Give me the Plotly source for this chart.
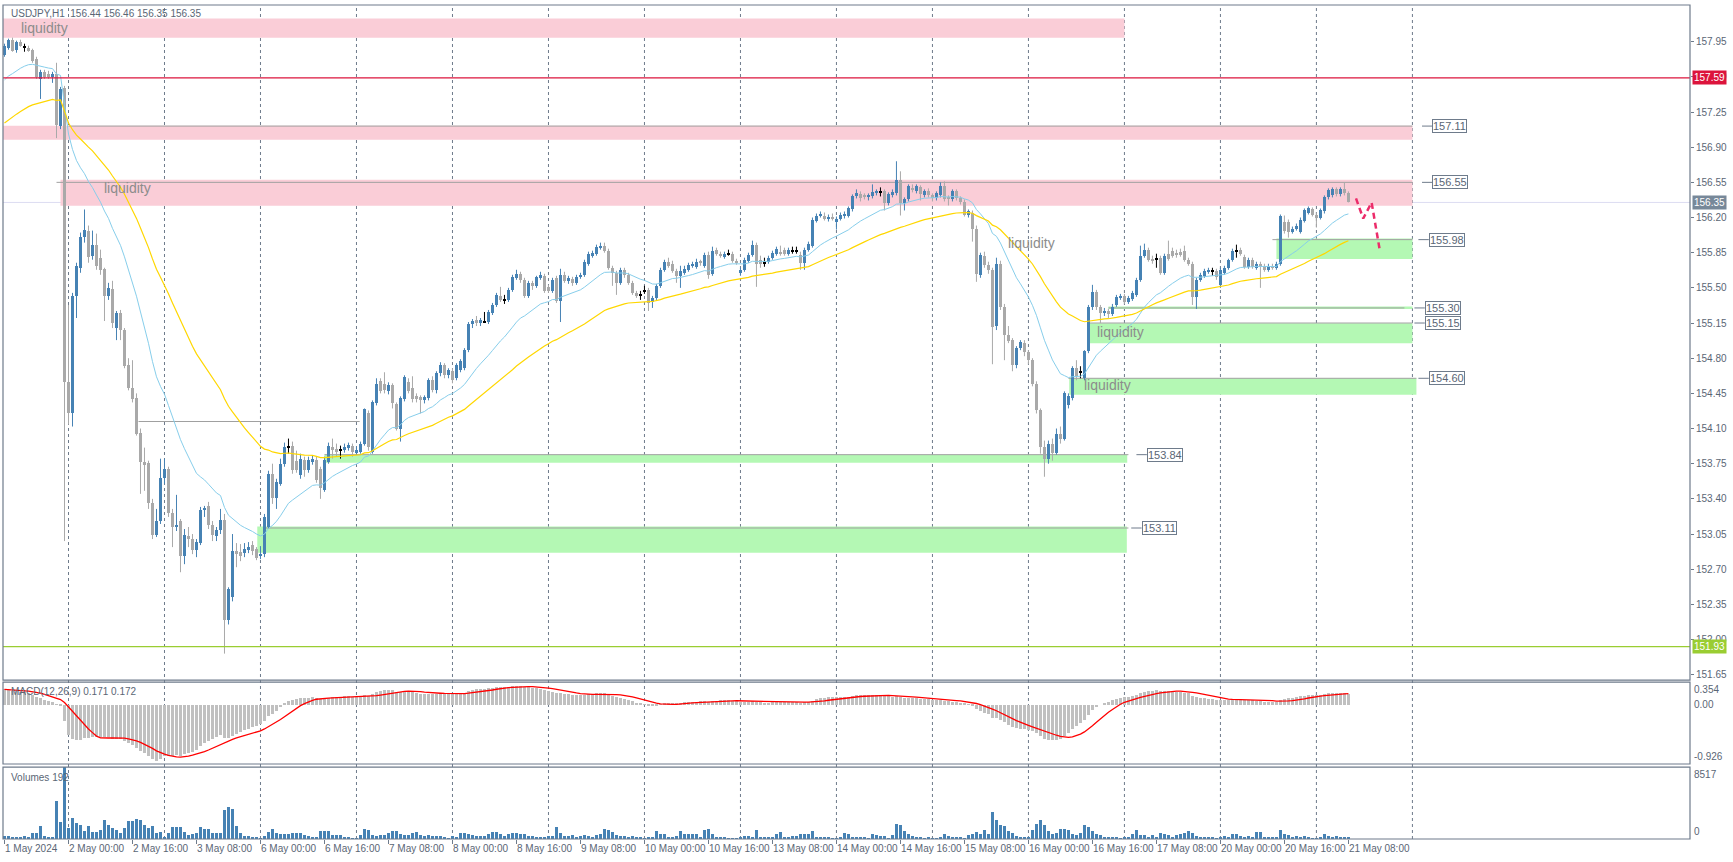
import plotly.graph_objects as go

# ---------------- data ----------------
OPEN = [157.82,157.89,157.97,157.87,157.95,157.90,157.89,157.87,157.78,157.58,157.65,157.63,157.60,157.63,157.11,157.49,
154.56,154.25,155.42,155.70,156.01,156.07,155.82,155.93,155.80,155.69,155.42,155.49,155.10,155.25,155.08,154.73,154.50,154.40,154.06,153.77,
153.76,153.36,153.04,153.18,153.61,153.70,153.26,153.12,153.18,152.83,153.03,153.00,152.89,152.96,153.29,153.33,153.14,153.03,153.09,153.19,
152.19,152.42,152.88,152.87,152.86,152.89,152.94,152.90,152.83,152.85,153.12,153.65,153.41,153.55,153.75,153.92,153.93,153.78,153.64,153.79,
153.69,153.77,153.79,153.70,153.49,153.77,153.92,153.90,153.89,153.89,153.91,153.93,153.86,153.87,153.95,154.25,153.87,154.35,154.57,154.54,
154.47,154.53,154.34,154.10,154.39,154.56,154.50,154.42,154.41,154.38,154.40,154.58,154.48,154.65,154.73,154.63,154.67,154.60,154.68,154.70,
154.88,155.14,155.18,155.15,155.16,155.16,155.25,155.33,155.42,155.38,155.38,155.48,155.60,155.64,155.58,155.42,155.55,155.52,155.60,155.62,
155.51,155.47,155.60,155.37,155.63,155.57,155.59,155.55,155.61,155.63,155.74,155.82,155.84,155.90,155.92,155.87,155.70,155.65,155.55,155.68,
155.63,155.55,155.45,155.43,155.47,155.48,155.36,155.40,155.52,155.68,155.76,155.74,155.67,155.62,155.65,155.68,155.72,155.71,155.76,155.72,
155.83,155.64,155.88,155.84,155.81,155.84,155.84,155.77,155.65,155.68,155.77,155.83,155.93,155.78,155.75,155.76,155.80,155.84,155.85,155.88,
155.84,155.87,155.87,155.83,155.75,155.88,155.92,156.17,156.22,156.22,156.19,156.21,156.16,156.19,156.22,156.22,156.28,156.41,156.43,156.42,
156.40,156.41,156.44,156.45,156.46,156.34,156.42,156.44,156.57,156.34,156.38,156.49,156.46,156.50,156.42,156.46,156.42,156.39,156.42,156.51,
156.40,156.38,156.46,156.39,156.35,156.23,156.25,156.09,155.63,155.82,155.73,155.68,155.12,155.74,155.31,155.03,154.98,154.73,154.90,154.95,
154.86,154.78,154.54,154.28,153.92,153.80,153.95,153.86,154.05,154.00,154.33,154.40,154.70,154.66,154.60,154.87,155.31,155.46,155.31,155.25,
155.27,155.24,155.33,155.40,155.42,155.36,155.39,155.43,155.58,155.82,155.88,155.79,155.79,155.80,155.65,155.84,155.87,155.85,155.86,155.87,
155.78,155.74,155.41,155.58,155.62,155.66,155.67,155.67,155.53,155.65,155.70,155.78,155.87,155.88,155.81,155.71,155.78,155.70,155.74,155.72,
155.68,155.72,155.70,155.74,156.16,156.16,156.06,156.09,156.06,156.17,156.25,156.28,156.23,156.20,156.26,156.40,156.42,156.48,156.43,156.48,
156.44]
HIGH = [157.93,157.98,157.99,157.96,157.97,157.93,157.91,157.88,157.80,157.67,157.67,157.66,157.65,157.74,157.50,157.51,
155.33,155.45,155.75,156.05,156.28,156.12,156.07,156.04,155.88,155.70,155.55,155.57,155.27,155.28,155.10,154.80,154.78,154.45,154.10,153.91,
153.78,153.40,153.30,153.80,153.80,153.72,153.30,153.44,153.20,153.10,153.12,153.05,153.00,153.32,153.33,153.37,153.18,153.12,153.30,153.25,
152.52,153.05,152.96,152.95,152.96,152.97,152.98,152.92,152.93,153.25,153.68,153.75,153.60,153.80,153.96,154.00,153.97,153.88,153.85,153.82,
153.82,153.83,153.82,153.72,153.82,153.96,154.00,153.95,153.93,153.95,153.96,153.95,153.92,153.97,154.30,154.28,154.38,154.60,154.60,154.66,
154.56,154.55,154.36,154.42,154.63,154.60,154.62,154.45,154.43,154.43,154.60,154.62,154.67,154.76,154.75,154.70,154.70,154.75,154.79,154.90,
155.16,155.19,155.22,155.20,155.26,155.28,155.35,155.45,155.51,155.43,155.50,155.63,155.68,155.66,155.60,155.57,155.57,155.62,155.66,155.64,
155.53,155.60,155.62,155.69,155.66,155.62,155.61,155.63,155.65,155.78,155.86,155.87,155.93,155.95,155.95,155.89,155.72,155.67,155.70,155.70,
155.65,155.57,155.47,155.47,155.52,155.50,155.42,155.54,155.70,155.78,155.80,155.77,155.69,155.72,155.72,155.75,155.76,155.79,155.78,155.85,
155.86,155.91,155.90,155.86,155.86,155.88,155.86,155.79,155.70,155.80,155.85,155.97,155.95,155.82,155.80,155.82,155.87,155.91,155.92,155.90,
155.90,155.91,155.91,155.86,155.90,155.96,156.20,156.24,156.26,156.25,156.23,156.24,156.21,156.25,156.26,156.31,156.43,156.48,156.46,156.44,
156.44,156.53,156.48,156.50,156.48,156.45,156.48,156.76,156.66,156.40,156.53,156.53,156.53,156.52,156.48,156.49,156.44,156.46,156.55,156.56,
156.42,156.48,156.48,156.41,156.38,156.28,156.27,156.12,155.85,155.86,155.76,155.70,155.80,155.77,155.34,155.12,155.00,154.92,154.98,154.98,
154.88,154.80,154.57,154.30,153.98,153.98,154.00,154.10,154.12,154.47,154.45,154.72,154.78,154.72,154.88,155.33,155.53,155.48,155.33,155.30,
155.29,155.34,155.43,155.44,155.44,155.42,155.47,155.60,155.92,155.94,155.90,155.82,155.84,155.82,155.84,155.97,155.90,155.88,155.89,155.92,
155.80,155.76,155.60,155.65,155.69,155.70,155.70,155.69,155.70,155.72,155.79,155.89,155.93,155.90,155.83,155.80,155.80,155.76,155.76,155.74,
155.74,155.74,155.76,156.23,156.22,156.18,156.11,156.14,156.20,156.29,156.31,156.30,156.25,156.29,156.42,156.49,156.50,156.50,156.50,156.55,
156.46]
LOW = [157.80,157.87,157.85,157.84,157.90,157.85,157.85,157.74,157.58,157.38,157.58,157.58,157.54,156.99,157.08,152.98,
154.14,154.12,155.20,155.65,155.95,155.75,155.78,155.68,155.63,155.17,155.38,155.10,154.98,154.98,154.70,154.48,154.36,154.03,153.45,153.48,
153.30,153.00,153.02,153.15,153.55,153.22,152.92,153.08,152.67,152.75,152.92,152.85,152.82,152.94,153.22,153.10,152.98,152.98,153.05,151.86,
152.15,152.38,152.72,152.78,152.82,152.86,152.84,152.79,152.80,152.82,153.10,153.35,153.30,153.53,153.72,153.85,153.65,153.66,153.60,153.62,
153.66,153.74,153.56,153.40,153.47,153.75,153.80,153.82,153.80,153.86,153.88,153.82,153.84,153.85,153.93,153.88,153.85,154.33,154.45,154.45,
154.44,154.30,154.08,153.97,154.37,154.45,154.36,154.36,154.25,154.35,154.38,154.46,154.45,154.62,154.60,154.60,154.55,154.58,154.66,154.68,
154.86,155.10,155.12,155.12,155.15,155.14,155.23,155.31,155.36,155.34,155.36,155.46,155.58,155.55,155.40,155.40,155.48,155.50,155.58,155.45,
155.45,155.45,155.35,155.16,155.55,155.54,155.52,155.53,155.59,155.61,155.72,155.80,155.82,155.88,155.85,155.68,155.52,155.43,155.53,155.60,
155.53,155.43,155.40,155.38,155.44,155.27,155.30,155.38,155.50,155.66,155.70,155.65,155.55,155.50,155.63,155.66,155.70,155.69,155.72,155.70,
155.59,155.62,155.82,155.80,155.79,155.82,155.75,155.73,155.62,155.66,155.75,155.81,155.51,155.70,155.71,155.74,155.78,155.82,155.82,155.82,
155.82,155.84,155.84,155.68,155.68,155.86,155.90,156.15,156.20,156.17,156.16,156.17,156.08,156.17,156.19,156.20,156.26,156.39,156.36,156.38,
156.37,156.39,156.42,156.41,156.27,156.32,156.40,156.42,156.22,156.27,156.36,156.45,156.44,156.37,156.40,156.40,156.36,156.37,156.40,156.36,
156.32,156.36,156.37,156.33,156.21,156.20,155.96,155.56,155.60,155.70,155.64,154.74,155.08,155.28,154.78,154.95,154.67,154.70,154.88,154.82,
154.74,154.52,154.25,153.85,153.62,153.75,153.78,153.84,153.95,153.98,154.30,154.38,154.58,154.60,154.58,154.85,155.28,155.28,155.15,155.22,
155.20,155.22,155.31,155.38,155.34,155.34,155.37,155.41,155.56,155.80,155.76,155.74,155.70,155.63,155.63,155.77,155.80,155.80,155.81,155.76,
155.72,155.33,155.29,155.56,155.60,155.64,155.62,155.58,155.50,155.63,155.68,155.76,155.80,155.82,155.69,155.69,155.69,155.68,155.50,155.66,
155.66,155.68,155.68,155.72,156.04,156.00,156.04,156.07,156.04,156.15,156.23,156.21,156.10,156.18,156.24,156.38,156.40,156.41,156.41,156.42,
156.35]
CLOSE = [157.91,157.97,157.86,157.95,157.91,157.90,157.86,157.76,157.60,157.65,157.60,157.60,157.63,157.12,157.48,154.56,
154.25,155.42,155.72,156.01,156.08,155.81,155.93,155.72,155.68,155.42,155.50,155.15,155.25,155.08,154.72,154.50,154.39,154.05,153.77,153.74,
153.36,153.04,153.18,153.61,153.70,153.26,153.12,153.14,152.83,153.04,153.00,152.89,152.97,153.29,153.30,153.14,153.04,153.09,153.19,152.19,
152.50,152.88,152.85,152.83,152.90,152.92,152.88,152.81,152.85,153.22,153.65,153.41,153.57,153.75,153.92,153.92,153.69,153.69,153.80,153.69,
153.79,153.80,153.59,153.51,153.79,153.93,153.89,153.87,153.89,153.92,153.94,153.87,153.89,153.95,154.29,153.92,154.36,154.54,154.47,154.48,
154.53,154.35,154.10,154.40,154.61,154.47,154.39,154.39,154.38,154.41,154.58,154.48,154.65,154.73,154.63,154.68,154.58,154.73,154.77,154.88,
155.14,155.17,155.15,155.18,155.16,155.26,155.33,155.43,155.38,155.38,155.48,155.61,155.64,155.58,155.42,155.55,155.52,155.61,155.63,155.47,
155.47,155.58,155.37,155.63,155.57,155.60,155.55,155.61,155.63,155.76,155.84,155.85,155.91,155.92,155.87,155.70,155.65,155.55,155.68,155.63,
155.55,155.45,155.42,155.43,155.47,155.35,155.40,155.52,155.68,155.76,155.72,155.67,155.62,155.67,155.69,155.73,155.73,155.76,155.75,155.83,
155.63,155.87,155.84,155.82,155.84,155.84,155.77,155.75,155.68,155.78,155.83,155.93,155.74,155.74,155.75,155.80,155.85,155.89,155.84,155.84,
155.88,155.87,155.87,155.75,155.88,155.94,156.18,156.22,156.23,156.19,156.21,156.19,156.19,156.23,156.24,156.29,156.41,156.44,156.39,156.40,
156.42,156.45,156.46,156.45,156.34,156.43,156.45,156.57,156.34,156.38,156.51,156.48,156.51,156.43,156.46,156.42,156.39,156.44,156.51,156.38,
156.38,156.46,156.39,156.35,156.23,156.26,156.09,155.64,155.83,155.73,155.68,155.11,155.74,155.31,155.03,154.97,154.73,154.90,154.96,154.86,
154.78,154.54,154.28,153.92,153.80,153.95,153.86,154.05,154.00,154.45,154.42,154.70,154.62,154.66,154.87,155.31,155.46,155.31,155.25,155.27,
155.24,155.31,155.41,155.42,155.36,155.40,155.45,155.58,155.82,155.88,155.78,155.77,155.79,155.65,155.82,155.79,155.82,155.83,155.83,155.78,
155.74,155.41,155.58,155.63,155.67,155.67,155.67,155.61,155.68,155.70,155.78,155.87,155.87,155.84,155.71,155.78,155.71,155.74,155.71,155.68,
155.72,155.70,155.74,156.22,156.07,156.06,156.09,156.12,156.18,156.27,156.29,156.23,156.20,156.27,156.40,156.47,156.48,156.43,156.48,156.44,
156.35]
VOLUME = [330,330,160,120,200,330,120,730,730,1550,410,200,200,4480,2040,8517,1300,2520,1950,1630,
900,1550,810,810,1020,2280,1710,1340,1020,730,1300,2120,2120,2360,2240,1630,1300,1550,730,810,
200,730,1380,1420,1420,810,490,570,730,1420,1220,1180,690,690,690,3380,3740,3500,1510,690,
410,330,280,160,60,330,810,1140,730,570,570,570,690,730,650,490,410,240,240,900,
900,900,490,490,490,280,240,80,40,530,1140,1060,490,330,490,530,690,980,900,610,
530,490,730,770,490,330,490,410,410,410,120,80,330,160,690,690,570,490,410,410,
410,610,810,810,570,410,570,690,730,610,570,330,330,200,280,160,330,410,1420,690,
410,410,530,200,410,490,330,280,490,570,1220,1060,810,530,330,330,240,330,240,120,
60,160,
163,895,570,570,163,163,407,895,570,570,570,570,163,1099,1221,570,285,163,163,81,
81,81,285,407,407,285,1099,285,285,163,285,611,773,285,285,407,407,570,570,570,
977,285,163,163,163,40,81,163,692,570,285,285,163,285,81,611,488,407,407,81,
488,1791,1709,977,570,407,285,163,81,163,81,40,285,611,407,285,285,163,81,488,
570,814,570,1099,611,3134,2198,1628,1506,977,692,407,163,163,163,1099,1791,2198,1709,977,
570,692,1221,1221,1099,570,488,692,1709,1425,977,570,488,285,285,163,163,81,285,163,
570,1099,488,488,285,488,285,692,570,488,285,488,570,692,977,692,407,285,285,163,
163,81,163,407,285,570,570,407,285,366,285,814,814,285,163,285,163,1099,570,488,
285,407,285,407,163,81,40,285,570,407,285,366,285,163,192]

XTICK_IDX = [0,16,32,48,64,80,96,112,128,144,160,176,192,208,224,240,256,272,288,304,320,336]
XTICK_TEXT = ["1 May 2024","2 May 00:00","2 May 16:00","3 May 08:00","6 May 00:00","6 May 16:00",
              "7 May 08:00","8 May 00:00","8 May 16:00","9 May 08:00","10 May 00:00","10 May 16:00",
              "13 May 08:00","14 May 00:00","14 May 16:00","15 May 08:00","16 May 00:00","16 May 16:00",
              "17 May 08:00","20 May 00:00","20 May 16:00","21 May 08:00"]
DAY_START_IDX = [16,40,64,88,112,136,160,184,208,232,256,280,304,328,352]
PRICE_TICKS = [151.65,152.00,152.35,152.70,153.05,153.40,153.75,154.10,154.45,154.80,
               155.15,155.50,155.85,156.20,156.55,156.90,157.25,157.60,157.95]

EMA_FAST_PERIOD, EMA_FAST_SEED = 20, 157.57
EMA_SLOW_PERIOD, EMA_SLOW_SEED = 50, 157.14
MACD_FAST, MACD_SLOW, MACD_SIG = 12, 26, 9
MACD_FAST_SEED, MACD_SLOW_SEED = 157.80, 157.56

# zones: start bar, end bar, low, high, kind
ZONE_START = [-1, -1, 14, 318, 276, 271.2, 266.2, 80, 63.2]
ZONE_END = [280, 352, 352, 352, 352, 352, 353, 280.7, 280.6]
ZONE_LOW = [157.99, 156.975, 156.318, 155.788, 155.29, 154.949, 154.435, 153.76, 152.865]
ZONE_HIGH = [158.18, 157.114, 156.575, 155.99, 155.315, 155.148, 154.60, 153.84, 153.124]
ZONE_KIND = ["supply", "supply", "supply", "demand", "demand", "demand", "demand", "demand", "demand"]

# level lines and tags
LEVEL_PRICE = [157.11, 156.55, 155.98, 155.30, 155.15, 154.60, 153.84, 153.11]
LEVEL_START = [16, 13, 317, 276, 271, 266, 80, 65]
LEVEL_END = [352, 352, 352, 350, 352, 353, 281, 281]
LEVEL_TAG_AT = [357, 357, 356.1, 355.1, 355.1, 356.1, 285.6, 284.3]
EXTRA_LINE = (33.5, 88.8, 154.17)

LIQ_X = [3.5, 24.5, 250.4, 272.6, 269.5]
LIQ_Y = [158.09, 156.49, 155.95, 155.06, 154.53]

RESIST_LINE, SUPPORT_LINE = 157.59, 151.93
ARROW_X = [337.9, 339.7, 341.8, 343.9]
ARROW_Y = [156.39, 156.19, 156.35, 155.86]

MAIN_RANGE = [151.597, 158.315]
MACD_RANGE = [-0.926, 0.354]
VOL_RANGE = [0, 8517]
X_RANGE = [-0.375, 421.4]

# ---------------- derived ----------------
N = len(CLOSE)
IDX = list(range(N))


def ema(vals, period, seed):
    a = 2.0 / (period + 1)
    out = [seed]
    for v in vals[1:]:
        out.append(a * v + (1 - a) * out[-1])
    return out


ema_fast = ema(CLOSE, EMA_FAST_PERIOD, EMA_FAST_SEED)
ema_slow = ema(CLOSE, EMA_SLOW_PERIOD, EMA_SLOW_SEED)
e12 = ema(CLOSE, MACD_FAST, MACD_FAST_SEED)
e26 = ema(CLOSE, MACD_SLOW, MACD_SLOW_SEED)
macd = [a - b for a, b in zip(e12, e26)]
signal = []
for k in range(N):
    w = macd[max(0, k - MACD_SIG + 1):k + 1]
    signal.append(sum(w) / len(w))

BULL, BEAR, DOJI = "#4682B4", "#A9A9A9", "#000000"
TXT = "#5A6675"
FRAME = "#6E7B8B"
FONT = "Liberation Sans, Arial, sans-serif"

fig = go.Figure()

groups = {"bull": ([], [], [], [], []), "bear": ([], [], [], [], []), "doji": ([], [], [], [], [])}
for k in IDX:
    o, h, l, c = OPEN[k], HIGH[k], LOW[k], CLOSE[k]
    kind = "bull" if c > o else ("bear" if c < o else "doji")
    bx, bbase, bh, wx, wy = groups[kind]
    hgt = max(abs(c - o), 0.009)
    bx.append(k)
    bbase.append(min(o, c) if kind != "doji" else o - 0.0045)
    bh.append(hgt)
    wx += [k, k, None]
    wy += [l, h, None]

colors = {"bull": BULL, "bear": BEAR, "doji": DOJI}
for kind in ["bear", "bull", "doji"]:
    bx, bbase, bh, wx, wy = groups[kind]
    fig.add_trace(go.Scatter(x=wx, y=wy, mode="lines", line=dict(color=colors[kind], width=1),
                             hoverinfo="skip", xaxis="x", yaxis="y"))
for kind in ["bear", "bull", "doji"]:
    bx, bbase, bh, wx, wy = groups[kind]
    fig.add_trace(go.Bar(x=bx, y=bh, base=bbase, width=0.75, marker=dict(color=colors[kind], line=dict(width=0)),
                         hoverinfo="skip", xaxis="x", yaxis="y"))

fig.add_trace(go.Scatter(x=IDX, y=ema_fast, mode="lines", line=dict(color="#87CEEB", width=1),
                         hoverinfo="skip", xaxis="x", yaxis="y"))
fig.add_trace(go.Scatter(x=IDX, y=ema_slow, mode="lines", line=dict(color="#FFD700", width=1.2),
                         hoverinfo="skip", xaxis="x", yaxis="y"))
fig.add_trace(go.Scatter(x=ARROW_X, y=ARROW_Y, mode="lines", line=dict(color="#EC2C6A", width=2.5, dash="6px,4px"),
                         hoverinfo="skip", xaxis="x", yaxis="y"))

# MACD panel
fig.add_trace(go.Bar(x=IDX, y=macd, width=0.7, marker=dict(color="#C0C0C0", line=dict(width=0)),
                     hoverinfo="skip", xaxis="x", yaxis="y2"))
fig.add_trace(go.Scatter(x=IDX, y=signal, mode="lines", line=dict(color="#FF0000", width=1.3),
                         hoverinfo="skip", xaxis="x", yaxis="y2"))
# Volume panel
fig.add_trace(go.Bar(x=IDX, y=VOLUME, width=0.7, marker=dict(color=BULL, line=dict(width=0)),
                     hoverinfo="skip", xaxis="x", yaxis="y3"))

shapes = []
for x0, x1, lo, hi, kind in zip(ZONE_START, ZONE_END, ZONE_LOW, ZONE_HIGH, ZONE_KIND):
    shapes.append(dict(type="rect", xref="x", yref="y", x0=x0, x1=x1, y0=lo, y1=hi,
                       fillcolor="#FACDD7" if kind == "supply" else "#B4F8B4", line=dict(width=0), layer="below"))
for p, x0, x1 in zip(LEVEL_PRICE, LEVEL_START, LEVEL_END):
    shapes.append(dict(type="line", xref="x", yref="y", x0=x0, x1=x1, y0=p, y1=p,
                       line=dict(color="#A0A0A0", width=1), layer="below"))
shapes.append(dict(type="line", xref="x", yref="y", x0=EXTRA_LINE[0], x1=EXTRA_LINE[1], y0=EXTRA_LINE[2],
                   y1=EXTRA_LINE[2], line=dict(color="#A0A0A0", width=1), layer="below"))
for p, t in zip(LEVEL_PRICE, LEVEL_TAG_AT):
    shapes.append(dict(type="line", xref="x", yref="y", x0=t - 2.6, x1=t, y0=p, y1=p,
                       line=dict(color=FRAME, width=1)))
shapes.append(dict(type="line", xref="paper", yref="y", x0=0, x1=1, y0=CLOSE[-1], y1=CLOSE[-1],
                   line=dict(color="#DCDCF2", width=1), layer="below"))
shapes.append(dict(type="line", xref="paper", yref="y", x0=0, x1=1, y0=RESIST_LINE, y1=RESIST_LINE,
                   line=dict(color="#DC143C", width=1.2)))
shapes.append(dict(type="line", xref="paper", yref="y", x0=0, x1=1, y0=SUPPORT_LINE, y1=SUPPORT_LINE,
                   line=dict(color="#9ACD32", width=1.2)))
for g in DAY_START_IDX:
    shapes.append(dict(type="line", xref="x", yref="paper", x0=g, x1=g, y0=0, y1=1,
                       line=dict(color=FRAME, width=1, dash="3px,3px"), layer="below"))

MAIN_DOM = [0.1906, 1.0]
MACD_DOM = [0.0899, 0.1882]
VOL_DOM = [0.0, 0.0863]
for d in (MAIN_DOM, MACD_DOM, VOL_DOM):
    shapes.append(dict(type="rect", xref="paper", yref="paper", x0=0, x1=1, y0=d[0], y1=d[1],
                       line=dict(color=FRAME, width=1.2), fillcolor="rgba(0,0,0,0)"))

ann = []
ann.append(dict(xref="paper", yref="paper", x=0, y=1, xanchor="left", yanchor="top", xshift=6, yshift=-1,
                text=f"USDJPY,H1  {OPEN[-1]:.2f} {HIGH[-1]:.2f} {LOW[-1]:.2f} {CLOSE[-1]:.2f}",
                showarrow=False, font=dict(family=FONT, size=10, color=TXT)))
ann.append(dict(xref="paper", yref="paper", x=0, y=MACD_DOM[1], xanchor="left", yanchor="top", xshift=6, yshift=-2,
                text="MACD(12,26,9) 0.171 0.172", showarrow=False, font=dict(family=FONT, size=10, color=TXT)))
ann.append(dict(xref="paper", yref="paper", x=0, y=VOL_DOM[1], xanchor="left", yanchor="top", xshift=6, yshift=-3,
                text="Volumes 192", showarrow=False, font=dict(family=FONT, size=10, color=TXT)))
for x, y in zip(LIQ_X, LIQ_Y):
    ann.append(dict(xref="x", yref="y", x=x, y=y, xanchor="left", yanchor="middle", text="liquidity",
                    showarrow=False, font=dict(family=FONT, size=14, color="#8C8C8C")))
for p, t in zip(LEVEL_PRICE, LEVEL_TAG_AT):
    ann.append(dict(xref="x", yref="y", x=t, y=p, xanchor="left", yanchor="middle", text=f"{p:.2f}",
                    showarrow=False, bgcolor="white", bordercolor=FRAME, borderwidth=1, borderpad=0,
                    font=dict(family=FONT, size=11, color=TXT)))
for p, col in ((RESIST_LINE, "#DC143C"), (CLOSE[-1], "#778899"), (SUPPORT_LINE, "#9ACD32")):
    ann.append(dict(xref="paper", yref="y", x=1, y=p, xanchor="left", yanchor="middle", xshift=2,
                    text=f"{p:.2f}", showarrow=False, bgcolor=col, borderpad=1,
                    font=dict(family=FONT, size=10, color="white")))
for txt, y, anc, ref in (("0.354", MACD_RANGE[1], "top", "y2"), ("0.00", 0, "middle", "y2"),
                         ("-0.926", MACD_RANGE[0], "bottom", "y2"),
                         ("8517", VOL_RANGE[1], "top", "y3"), ("0", VOL_RANGE[0], "bottom", "y3")):
    ann.append(dict(xref="paper", yref=ref, x=1, y=y, xanchor="left", yanchor=anc, xshift=2,
                    text=txt, showarrow=False, font=dict(family=FONT, size=10, color=TXT)))

fig.update_layout(
    width=1733, height=862,
    margin=dict(l=3, r=43, t=5, b=23, autoexpand=False),
    paper_bgcolor="white", plot_bgcolor="white",
    showlegend=False, barmode="overlay", bargap=0,
    shapes=shapes, annotations=ann,
    xaxis=dict(domain=[0, 1], anchor="y3", range=X_RANGE, tickmode="array", tickvals=XTICK_IDX,
               ticktext=XTICK_TEXT, ticks="outside", ticklen=4, tickcolor=FRAME, tickangle=0,
               ticklabelposition="outside right", showgrid=False, zeroline=False, showline=False,
               automargin=False, tickfont=dict(family=FONT, size=10, color=TXT)),
    yaxis=dict(domain=MAIN_DOM, anchor="x", side="right", range=MAIN_RANGE, tickmode="array",
               tickvals=PRICE_TICKS, ticktext=[f"{v:.2f}" for v in PRICE_TICKS], ticks="outside", ticklen=3,
               tickcolor=FRAME, showgrid=False, zeroline=False, showline=False, automargin=False,
               tickfont=dict(family=FONT, size=10, color=TXT)),
    yaxis2=dict(domain=MACD_DOM, anchor="x", side="right", range=MACD_RANGE, showticklabels=False,
                ticks="", showgrid=False, zeroline=False, showline=False, automargin=False),
    yaxis3=dict(domain=VOL_DOM, anchor="x", side="right", range=VOL_RANGE, showticklabels=False,
                ticks="", showgrid=False, zeroline=False, showline=False, automargin=False),
)

fig.write_html("out.html", config={"displayModeBar": False},
               post_script="document.body.style.margin='0px';document.body.style.overflow='hidden';")
